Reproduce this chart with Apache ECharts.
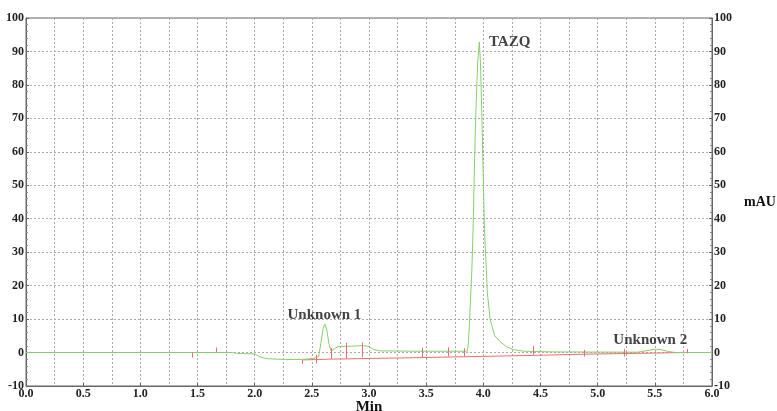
<!DOCTYPE html>
<html>
<head>
<meta charset="utf-8">
<script src="https://cdn.jsdelivr.net/npm/echarts@6/dist/echarts.min.js"></script>
<style>
  html, body { margin: 0; padding: 0; background: #fff; }
  #chart { width: 777px; height: 411px; }
</style>
</head>
<body>
<div id="chart"></div>
<script>
// chromatogram trace (time in min, absorbance in mAU)
var traceT = [0.00, 1.80, 1.86, 2.00, 2.04, 2.10, 2.20, 2.35, 2.45, 2.52, 2.56, 2.58, 2.60, 2.615, 2.63, 2.65, 2.67, 2.70, 2.73, 2.85, 2.95, 3.00, 3.04, 3.10, 3.40, 3.86, 3.87, 3.88, 3.90, 3.91, 3.93, 3.95, 3.965, 3.975, 3.99, 4.01, 4.035, 4.06, 4.10, 4.15, 4.20, 4.26, 4.35, 4.60, 5.35, 5.42, 5.50, 5.55, 5.62, 5.68, 6.00];
var traceV = [0, 0, -0.3, -0.4, -1.2, -1.8, -2.0, -2.1, -2.0, -1.7, -1.2, 3.0, 7.5, 8.5, 7.0, 2.5, 0.4, 1.2, 1.8, 1.9, 2.1, 1.8, 0.9, 0.5, 0.4, 0.4, 3.0, 9.8, 25, 36.7, 66.6, 86.7, 92.8, 86.7, 66.6, 36.7, 18, 9.8, 5.0, 3.2, 1.8, 0.9, 0.4, 0.2, 0.1, 0.5, 1.0, 0.9, 0.3, 0.0, 0];

// integration baselines
var base1T = [1.45, 1.66];
var base1V = [0, 0];
var base2T = [2.42, 2.54, 2.67, 2.80, 2.94, 3.47, 3.69, 3.83, 4.44, 4.88, 5.23, 5.77];
var base2V = [-2.2, -2.1, -1.95, -1.9, -1.8, -1.5, -1.35, -1.25, -0.85, -0.5, -0.3, 0];

// peak start/end markers
var markT  = [1.45, 1.66, 2.42, 2.54, 2.67, 2.80, 2.94, 3.47, 3.69, 3.83, 4.44, 4.88, 5.23, 5.78];
var markLo = [-1.5, 0, -3.4, -3.2, -1.9, -1.8, -1.4, -1.4, -1.2, -1.2, -0.7, -1.2, -1.2, -0.2];
var markHi = [0, 1.5, -2.2, -0.7, 1.4, 2.9, 3.0, 1.5, 1.6, 1.3, 2.0, 0.8, 1.1, 1.1];

// peak names
var peakNames = ['Unknown 1', 'TAZQ', 'Unknown 2'];
var peakT = [2.61, 4.23, 5.46];
var peakV = [11.3, 92.7, 3.8];

var xTicks = [0, 6, 0.5];
var yTicks = [-10, 100, 10];

var GREEN = '#86cf6a';
var RED = '#f26b6b';
var FONT = 'Liberation Serif';

function zip(a, b) {
    return a.map(function (v, i) { return [v, b[i]]; });
}

var markData = markT.map(function (t, i) {
    return [{ coord: [t, markLo[i]] }, { coord: [t, markHi[i]] }];
});

var myChart = echarts.init(document.getElementById('chart'));
var axisLab = { fontFamily: FONT, fontWeight: 'bold', fontSize: 12, color: '#222' };
var yAxisBase = {
    type: 'value',
    min: yTicks[0],
    max: yTicks[1],
    interval: yTicks[2],
    axisLine: { show: true, lineStyle: { color: '#666', width: 1 } },
    axisTick: { show: true, inside: true, length: 3, lineStyle: { color: '#666' } },
    minorTick: { show: true, splitNumber: 5, length: 2, lineStyle: { color: '#888' } }
};

var option = {
    animation: false,
    grid: {
        left: 26, right: 65, top: 18, bottom: 25,
        outerBoundsMode: 'none',
        containLabel: false,
        show: true, borderColor: '#666', borderWidth: 1, backgroundColor: 'transparent'
    },
    xAxis: {
        type: 'value',
        min: xTicks[0],
        max: xTicks[1],
        interval: xTicks[2],
        name: 'Min',
        nameLocation: 'middle',
        nameGap: 14,
        nameMoveOverlap: false,
        nameTextStyle: { fontFamily: FONT, fontWeight: 'bold', fontSize: 15, color: '#111', verticalAlign: 'top' },
        axisLine: { show: true, onZero: false, lineStyle: { color: '#666' } },
        axisTick: { show: true, inside: true, length: 3, lineStyle: { color: '#666' } },
        minorTick: { show: false, splitNumber: 2 },
        axisLabel: Object.assign({ margin: 2, formatter: function (v) { return v.toFixed(1); } }, axisLab),
        splitLine: { show: true, lineStyle: { color: '#aaa', type: [2, 2] } },
        minorSplitLine: { show: true, lineStyle: { color: '#aaa', type: [2, 2] } }
    },
    yAxis: [
        Object.assign({}, yAxisBase, {
            position: 'left',
            axisLabel: Object.assign({ margin: 2 }, axisLab),
            splitLine: { show: true, lineStyle: { color: '#aaa', type: [2, 2] } }
        }),
        Object.assign({}, yAxisBase, {
            position: 'right',
            name: 'mAU',
            nameLocation: 'middle',
            nameRotate: 0,
            nameGap: 32,
            nameMoveOverlap: false,
            nameTextStyle: { fontFamily: FONT, fontWeight: 'bold', fontSize: 14, color: '#111', align: 'left', padding: [10, 0, 0, 0] },
            axisLabel: Object.assign({ margin: 2 }, axisLab),
            splitLine: { show: false }
        })
    ],
    series: [
        {
            type: 'line',
            data: zip(traceT, traceV),
            showSymbol: false,
            lineStyle: { color: GREEN, width: 1 },
            z: 3
        },
        {
            type: 'line',
            data: zip(base1T, base1V),
            showSymbol: false,
            lineStyle: { color: RED, width: 1 },
            z: 2
        },
        {
            type: 'line',
            data: zip(base2T, base2V),
            showSymbol: false,
            lineStyle: { color: RED, width: 1 },
            z: 2,
            markLine: {
                silent: true,
                symbol: 'none',
                label: { show: false },
                lineStyle: { color: RED, width: 1, type: 'solid' },
                data: markData
            }
        },
        {
            type: 'scatter',
            data: peakT.map(function (t, i) { return { value: [t, peakV[i]], name: peakNames[i] }; }),
            symbolSize: 0,
            label: {
                show: true,
                position: 'inside',
                formatter: '{b}',
                fontFamily: FONT,
                fontWeight: 'bold',
                fontSize: 15,
                color: '#111'
            },
            z: 5
        }
    ]
};
myChart.setOption(option);
</script>
</body>
</html>
